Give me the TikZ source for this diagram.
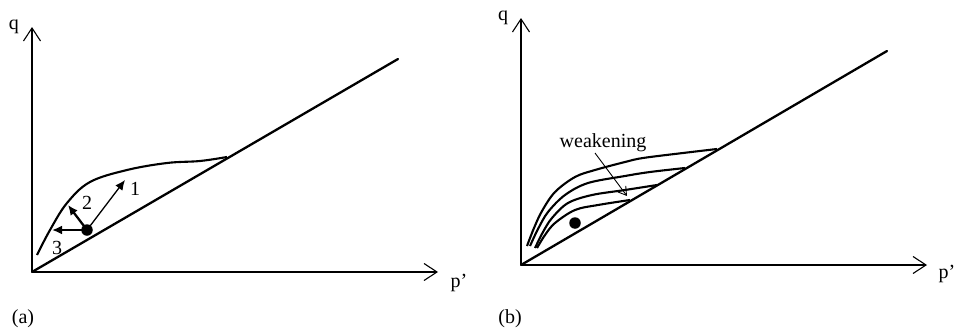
\documentclass[tikz,border=0pt]{standalone}
\usepackage{fontspec}
\setmainfont{Liberation Serif}
\usetikzlibrary{arrows.meta}
\begin{document}
\begin{tikzpicture}[x=1pt,y=-1pt,
  lbl/.style={font=\fontsize{20}{22}\selectfont, inner sep=0pt},
  axis/.style={line width=1.1pt, -{Straight Barb[length=13pt,width=17pt,line width=1.1pt]}},
  thick2/.style={line width=2.3pt, line cap=round, line join=round},
  yld/.style={line width=2.1pt, line cap=butt, line join=round},
  dotn/.style={circle, fill=black, inner sep=0pt, minimum size=11.5pt},
  harrow/.style={-{Latex[length=10pt,width=9pt]}},
]
\useasboundingbox (0,0) rectangle (955,332);
% ---------------- panel (a)
\coordinate (Oa) at (32,272);
\coordinate (Qa) at (32,27);
\coordinate (Pa) at (438,272);
\coordinate (La) at (398,59);
\draw[axis] (Oa) -- (Qa);
\draw[axis] (Oa) -- (Pa);
\draw[thick2] (Oa) -- (La);
\draw[yld] plot[smooth, tension=0.6] coordinates {(37,255) (50,230) (67,203) (90,182) (127,170) (167,163) (200,161) (227,157)};
\node[dotn] (dota) at (87,230) {};
\coordinate (a1) at (125,180);
\coordinate (a2) at (68,205);
\coordinate (a3) at (52,230);
\draw[harrow, line width=1.3pt] (dota.center) -- (a1);
\draw[harrow, line width=2.3pt] (dota.center) -- (a2);
\draw[harrow, line width=2.3pt] (dota.center) -- (a3);
\node[lbl] (n1) at (135,189) {1};
\node[lbl] (n2) at (87,203) {2};
\node[lbl] (n3) at (57,248) {3};
\node[lbl] (qa) at (14,27) {q};
\node[lbl] (pa) at (459,283) {p’};
\node[lbl] (capa) at (23,319) {(a)};
% ---------------- panel (b)
\coordinate (Ob) at (521,265);
\coordinate (Qb) at (521,18);
\coordinate (Pb) at (927,265);
\coordinate (Lb) at (887,51);
\draw[axis] (Ob) -- (Qb);
\draw[axis] (Ob) -- (Pb);
\draw[thick2] (Ob) -- (Lb);
\draw[yld] plot[smooth, tension=0.55] coordinates {(527,246) (534,228) (542,211) (555,192) (575,177) (595,170) (625,162) (643,158) (683,153) (717,149)};
\draw[yld] plot[smooth, tension=0.55] coordinates {(530,246) (538,229) (548,212) (565,195) (588,183) (625,176) (650,172) (685,168)};
\draw[yld] plot[smooth, tension=0.55] coordinates {(535,248) (543,232) (552,218) (568,203) (592,195) (625,190) (657,185)};
\draw[yld] plot[smooth, tension=0.55] coordinates {(537,248) (545,235) (555,223) (575,210) (598,205) (630,200)};
\node[dotn] (dotb) at (575,223) {};
\node[lbl] (weak) at (603,143) {weakening};
\coordinate (wtip) at (627,196);
\draw[line width=0.9pt, -{Straight Barb[length=8pt,width=10pt,line width=0.9pt]}] (595,153) -- (wtip);
\node[lbl] (qb) at (503,18) {q};
\node[lbl] (pb) at (947,274) {p’};
\node[lbl] (capb) at (510,319) {(b)};
\end{tikzpicture}
\end{document}
